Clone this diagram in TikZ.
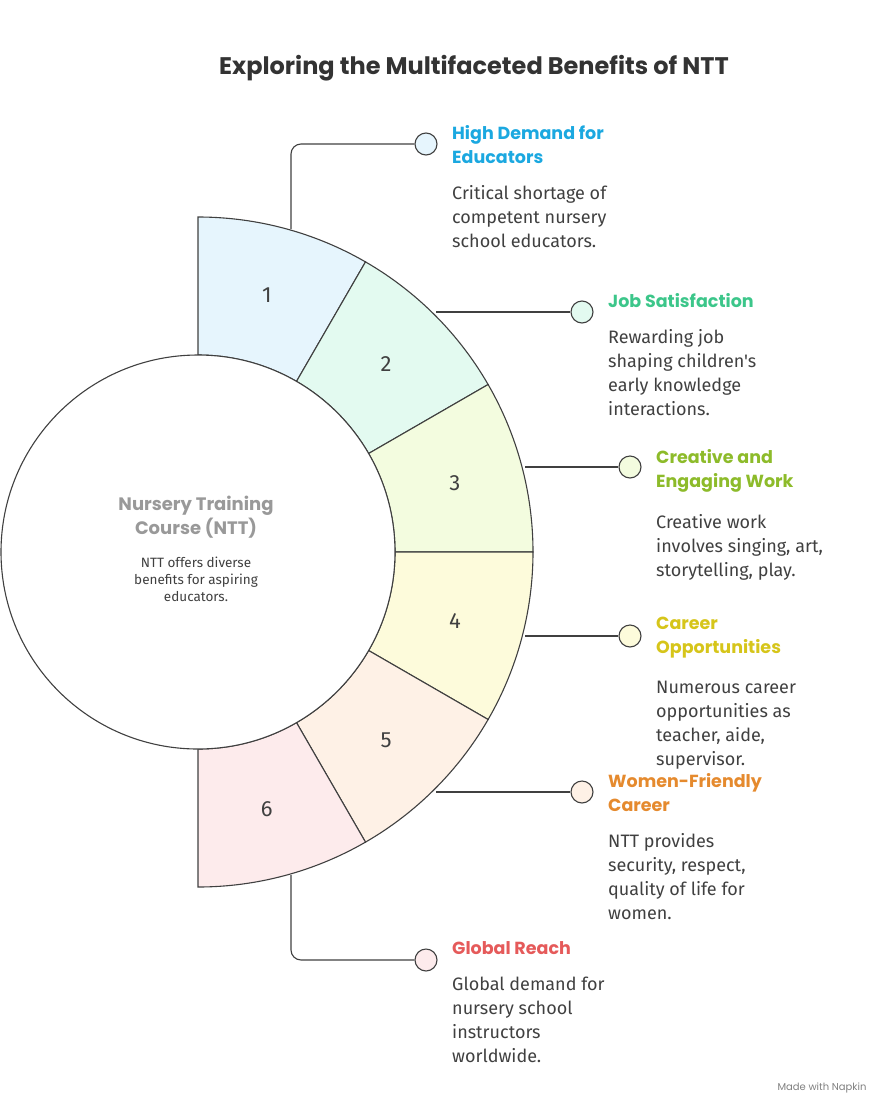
\documentclass[tikz,border=0pt]{standalone}
\usepackage{fontspec}
\usetikzlibrary{calc,positioning}
\setmainfont{Poppins}
\newfontfamily\bodyf{Fira Sans}
\begin{document}
\begin{tikzpicture}[x=1pt,y=-1pt,
  sec/.style={draw=black!75,line width=1.1pt},
  conn/.style={draw=black!75,line width=1.1pt,rounded corners=10pt},
  dot/.style={circle,draw=black!75,line width=1.1pt,minimum size=22pt,inner sep=0},
  ttl/.style={anchor=north west,inner sep=0,align=left,font=\bfseries\fontsize{17.5}{24}\selectfont},
  bdy/.style={anchor=north west,inner sep=0,align=left,font=\bodyf\fontsize{18}{24}\selectfont,text=black!75},
  num/.style={font=\bodyf\fontsize{22}{26}\selectfont,text=black!75}]
\useasboundingbox (0,0) rectangle (894,1117);
\definecolor{c1}{HTML}{E6F5FD}\definecolor{c2}{HTML}{E3FAF0}\definecolor{c3}{HTML}{F3FCDF}
\definecolor{c4}{HTML}{FDFBDB}\definecolor{c5}{HTML}{FEF1E6}\definecolor{c6}{HTML}{FDEBEC}
\definecolor{t1}{HTML}{1BA8E0}\definecolor{t2}{HTML}{3CC68A}\definecolor{t3}{HTML}{8DBB2A}
\definecolor{t4}{HTML}{D6C51A}\definecolor{t5}{HTML}{E58A2E}\definecolor{t6}{HTML}{E55A5A}
\coordinate (O) at (198,552);
\foreach \i/\a in {1/90,2/60,3/30,4/0,5/-30,6/-60}{
  \pgfmathsetmacro\b{\a-30}
  \filldraw[sec,fill=c\i] ($(O)+({cos(\a)*197},{-sin(\a)*197})$) -- ($(O)+({cos(\a)*335},{-sin(\a)*335})$)
    arc[start angle=-\a,end angle=-\b,radius=335] -- ($(O)+({cos(\b)*197},{-sin(\b)*197})$)
    arc[start angle=-\b,end angle=-\a,radius=197] -- cycle;
  \pgfmathsetmacro\m{\a-15}
  \node[num] (n\i) at ($(O)+({cos(\m)*266},{-sin(\m)*266})$) {\i};
}
\node[circle,draw=black!75,line width=1.1pt,fill=white,minimum size=394pt,inner sep=0] (hub) at (O) {};
\node[font=\bfseries\fontsize{18}{24}\selectfont,text=black!40,align=center] (ht) at (196,517) {Nursery Training\\Course (NTT)};
\node[font=\bodyf\fontsize{13.5}{17}\selectfont,text=black!75,align=center] (hs) at (196,579) {NTT offers diverse\\benefits for aspiring\\educators.};
\node[font=\bfseries\fontsize{24}{28}\selectfont,text=black!80] (title) at (474,68) {Exploring the Multifaceted Benefits of NTT};
\node[dot,fill=c1] (d1) at (426,144) {};
\node[dot,fill=c2] (d2) at (582,312) {};
\node[dot,fill=c3] (d3) at (630,467) {};
\node[dot,fill=c4] (d4) at (630,636) {};
\node[dot,fill=c5] (d5) at (582,792) {};
\node[dot,fill=c6] (d6) at (426,960) {};
\coordinate (s1) at (291,229);\coordinate (s2) at (436,312);\coordinate (s3) at (525,467);
\coordinate (s4) at (525,636);\coordinate (s5) at (436,792);\coordinate (s6) at (291,875);
\draw[conn] (s1) |- (d1);
\draw[conn] (s2) -- (d2);
\draw[conn] (s3) -- (d3);
\draw[conn] (s4) -- (d4);
\draw[conn] (s5) -- (d5);
\draw[conn] (s6) |- (d6);
\node[ttl,text=t1] (l1) at (452,125) {High Demand for\\Educators};
\node[bdy,below=22pt of l1.south west,anchor=north west] (b1) {Critical shortage of\\competent nursery\\school educators.};
\node[ttl,text=t2] (l2) at (608,293) {Job Satisfaction};
\node[bdy,below=22pt of l2.south west,anchor=north west] (b2) {Rewarding job\\shaping children's\\early knowledge\\interactions.};
\node[ttl,text=t3] (l3) at (656,449) {Creative and\\Engaging Work};
\node[bdy,below=22pt of l3.south west,anchor=north west] (b3) {Creative work\\involves singing, art,\\storytelling, play.};
\node[ttl,text=t4] (l4) at (656,617) {Career\\Opportunities};
\node[bdy,below=22pt of l4.south west,anchor=north west] (b4) {Numerous career\\opportunities as\\teacher, aide,\\supervisor.};
\node[ttl,text=t5] (l5) at (608,773) {Women-Friendly\\Career};
\node[bdy,below=22pt of l5.south west,anchor=north west] (b5) {NTT provides\\security, respect,\\quality of life for\\women.};
\node[ttl,text=t6] (l6) at (452,941) {Global Reach};
\node[bdy,below=22pt of l6.south west,anchor=north west] (b6) {Global demand for\\nursery school\\instructors\\worldwide.};
\node[font=\fontsize{10}{12}\selectfont,text=black!50,anchor=east] (mw) at (870,1088) {Made with Napkin};
\end{tikzpicture}
\end{document}
